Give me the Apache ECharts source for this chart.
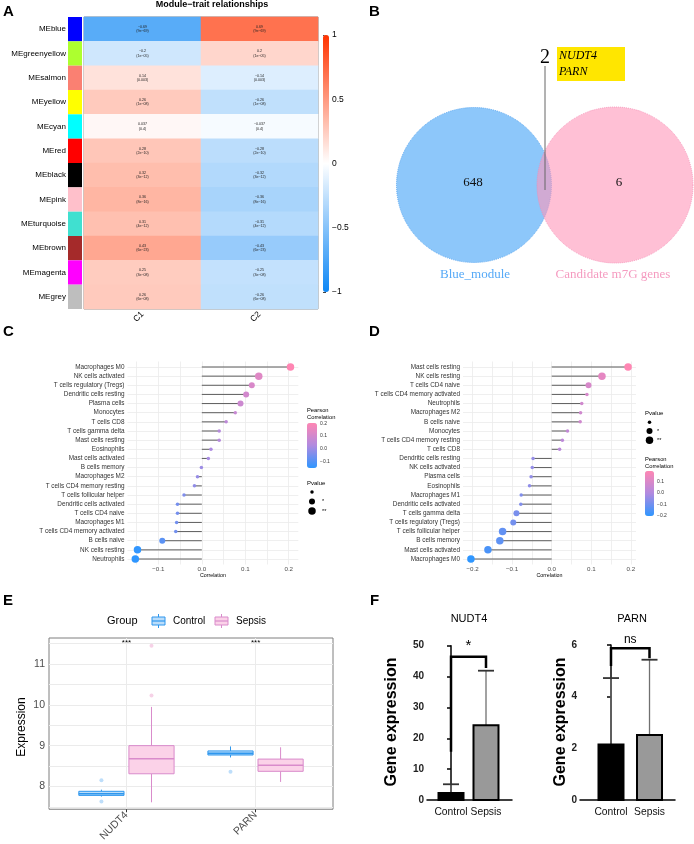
<!DOCTYPE html>
<html><head><meta charset="utf-8">
<script src="https://cdn.jsdelivr.net/npm/echarts@6/dist/echarts.min.js"></script>
<style>html,body{margin:0;padding:0;background:#fff}#c{width:694px;height:844px}</style>
</head><body><div id="c"></div>
<script>
// ================= DATA =================
// Panel A: module-trait heatmap
const modules = ['MEblue','MEgreenyellow','MEsalmon','MEyellow','MEcyan','MEred','MEblack','MEpink','MEturquoise','MEbrown','MEmagenta','MEgrey'];
const moduleColors = ['#0000FF','#ADFF2F','#FA8072','#FFFF00','#00FFFF','#FF0000','#000000','#FFC0CB','#40E0D0','#A52A2A','#FF00FF','#BEBEBE'];
const traits = ['C1','C2'];
const corC1 = [-0.69,-0.2,0.14,0.26,0.037,0.28,0.32,0.36,0.31,0.43,0.25,0.26];
const corC2 = [0.69,0.2,-0.14,-0.26,-0.037,-0.28,-0.32,-0.36,-0.31,-0.43,-0.25,-0.26];
const pvalsA = ['9e−69','1e−05','0.003','1e−08','0.4','2e−10','3e−12','8e−16','4e−12','6e−23','3e−08','6e−08'];

// Panel B: Venn
const vennSets = ['Blue_module','Candidate m7G genes'];
const vennCounts = [648, 2, 6];
const overlapGenes = ['NUDT4','PARN'];

// Panel C: immune cell correlation (NUDT4)
const cellTypesC = ['Macrophages M0','NK cells activated','T cells regulatory (Tregs)','Dendritic cells resting','Plasma cells','Monocytes','T cells CD8','T cells gamma delta','Mast cells resting','Eosinophils','Mast cells activated','B cells memory','Macrophages M2','T cells CD4 memory resting','T cells follicular helper','Dendritic cells activated','T cells CD4 naive','Macrophages M1','T cells CD4 memory activated','B cells naive','NK cells resting','Neutrophils'];
const corrC = [0.204,0.131,0.115,0.102,0.089,0.077,0.056,0.040,0.040,0.021,0.015,-0.001,-0.010,-0.017,-0.041,-0.056,-0.056,-0.058,-0.060,-0.091,-0.148,-0.153];
const pLevelC = [2,2,1,1,1,0,0,0,0,0,0,0,0,0,0,0,0,0,0,1,2,2];

// Panel D: immune cell correlation (PARN)
const cellTypesD = ['Mast cells resting','NK cells resting','T cells CD4 naive','T cells CD4 memory activated','Neutrophils','Macrophages M2','B cells naive','Monocytes','T cells CD4 memory resting','T cells CD8','Dendritic cells resting','NK cells activated','Plasma cells','Eosinophils','Macrophages M1','Dendritic cells activated','T cells gamma delta','T cells regulatory (Tregs)','T cells follicular helper','B cells memory','Mast cells activated','Macrophages M0'];
const corrD = [0.193,0.127,0.093,0.089,0.076,0.073,0.072,0.040,0.027,0.020,-0.047,-0.049,-0.052,-0.056,-0.077,-0.078,-0.089,-0.097,-0.124,-0.131,-0.161,-0.204];
const pLevelD = [2,2,1,0,0,0,0,0,0,0,0,0,0,0,0,0,1,1,2,2,2,2];
const pLabels = ['', '*', '**'];
const corrAxisTicksC = [-0.1,0,0.1,0.2];
const corrAxisTicksD = [-0.2,-0.1,0,0.1,0.2];
const corrGridC = [-0.15,-0.1,-0.05,0,0.05,0.1,0.15,0.2];
const corrGridD = [-0.2,-0.15,-0.1,-0.05,0,0.05,0.1,0.15,0.2];
const legendTicksC = [-0.1,0,0.1,0.2];
const legendTicksD = [-0.2,-0.1,0,0.1];

// Panel E: boxplots  [lower whisker, Q1, median, Q3, upper whisker]
const genesE = ['NUDT4','PARN'];
const groupsE = ['Control','Sepsis'];
const boxControl = [[7.75,7.78,7.82,7.88,7.92],[8.71,8.77,8.81,8.87,8.98]];
const boxSepsis  = [[7.61,8.31,8.68,9.00,9.95],[8.11,8.37,8.52,8.67,8.96]];
const outControl = [[1,8.15],[1,7.63],[2,8.36]];
const outSepsis  = [[1,10.23],[1,11.45]];
const yTicksE = [8,9,10,11];
const yGridE = [7.5,8,8.5,9,9.5,10,10.5,11,11.5];
const sigE = ['***','***'];

// Panel F: bar charts
const groupsF = ['Control','Sepsis'];
const nudt4Mean = [2.3, 24.2];
const nudt4Upper = [5.1, 41.9];
const parnMean = [2.15, 2.52];
const parnUpper = [4.72, 5.43];
const nudt4Bracket = [15.6, 46.4, 42.8];
const parnBracket = [5.19, 5.87, 5.49];
const sigF = ['*','ns'];

// ================= RENDER =================
const SANS = 'Liberation Sans, Arial, Helvetica, sans-serif';
const SERIF = 'Liberation Serif, Times New Roman, serif';
const chart = echarts.init(document.getElementById('c'), null, {renderer:'canvas', width:694, height:844});

const mfmt = v => (v < 0 ? '−' : '') + String(Math.abs(+v.toFixed(3)));
const f1 = v => Math.abs(v) < 1e-9 ? '0.0' : (v < 0 ? '−' : '') + Math.abs(v).toFixed(1);

const heatData = [];
modules.forEach((m, i) => { heatData.push([0, i, corC1[i]]); heatData.push([1, i, corC2[i]]); });

const pSizes = [3.5, 6, 7.5];
const lolliColors = ['#2E96FF', '#B08AE0', '#FF86B3'];

function stemRender(params, api) {
  const v = api.value(0), y = api.value(1);
  const a = api.coord([0, y]), b = api.coord([v, y]);
  return {type:'line', shape:{x1:a[0], y1:a[1], x2:b[0], y2:b[1]}, style:{stroke:'#5c5c5c', lineWidth:1}};
}

const dodge = 0.194, boxHalf = 0.175;
function boxRender(offset, stroke, fill) {
  return (params, api) => {
    const x = api.value(0) + offset;
    const lo = api.coord([x, api.value(1)]), q1 = api.coord([x, api.value(2)]), md = api.coord([x, api.value(3)]),
          q3 = api.coord([x, api.value(4)]), hi = api.coord([x, api.value(5)]);
    const L = api.coord([x - boxHalf, api.value(3)])[0], R = api.coord([x + boxHalf, api.value(3)])[0];
    return {type:'group', children:[
      {type:'line', shape:{x1:lo[0], y1:lo[1], x2:q1[0], y2:q1[1]}, style:{stroke, lineWidth:1}},
      {type:'line', shape:{x1:q3[0], y1:q3[1], x2:hi[0], y2:hi[1]}, style:{stroke, lineWidth:1}},
      {type:'rect', shape:{x:L, y:q3[1], width:R-L, height:q1[1]-q3[1]}, style:{fill, stroke, lineWidth:1}},
      {type:'line', shape:{x1:L, y1:md[1], x2:R, y2:md[1]}, style:{stroke, lineWidth:1.6}}
    ]};
  };
}

function barsRender(fills) {
  return (params, api) => {
    const i = params.dataIndex;
    const x = api.value(0), m = api.value(1), u = api.value(2);
    const base = api.coord([x, 0]), top = api.coord([x, m]), up = api.coord([x, u]);
    const w = 25;
    return {type:'group', children:[
      {type:'line', shape:{x1:top[0], y1:top[1], x2:up[0], y2:up[1]}, style:{stroke:'#707070', lineWidth:1.3}},
      {type:'line', shape:{x1:up[0]-8, y1:up[1], x2:up[0]+8, y2:up[1]}, style:{stroke:'#333', lineWidth:1.8}},
      {type:'rect', shape:{x:base[0]-w/2, y:top[1], width:w, height:base[1]-top[1]}, style:{fill:fills[i], stroke:'#000', lineWidth:2}}
    ]};
  };
}

function bracketRender(label, size) {
  return (params, api) => {
    const l = api.value(0), r = api.value(1);
    const p1 = api.coord([l, api.value(2)]), p2 = api.coord([l, api.value(3)]),
          p3 = api.coord([r, api.value(3)]), p4 = api.coord([r, api.value(4)]);
    return {type:'group', children:[
      {type:'polyline', shape:{points:[p1,p2,p3,p4]}, style:{stroke:'#000', lineWidth:2.5, fill:null}},
      {type:'text', x:(p2[0]+p3[0])/2, y:p2[1]-3, style:{text:label, fontSize:size, fontFamily:SANS, fill:'#000', align:'center', verticalAlign:'bottom'}}
    ]};
  };
}

// ---------- graphics (labels / legends) ----------
const G = [];
function txt(x, y, text, o) {
  o = o || {};
  G.push({type:'text', x, y, rotation:o.rot||0, z:100, silent:true, style:{
    text, fontSize:o.size||10, fontFamily:o.family||SANS, fontWeight:o.weight||'normal', fontStyle:o.style||'normal',
    fill:o.color||'#000', align:o.align||'left', verticalAlign:o.va||'middle'}});
}
// panel letters
txt(3, 12, 'A', {size:15, weight:'bold'});
txt(369, 12, 'B', {size:15, weight:'bold'});
txt(3, 332, 'C', {size:15, weight:'bold'});
txt(369, 332, 'D', {size:15, weight:'bold'});
txt(3, 601, 'E', {size:15, weight:'bold'});
txt(370, 601, 'F', {size:15, weight:'bold'});
// A title
txt(212, 5, 'Module−trait relationships', {size:9, weight:'bold', align:'center'});
// B annotations
G.push({type:'line', z:100, silent:true, shape:{x1:545, y1:66, x2:545, y2:190}, style:{stroke:'#666', lineWidth:1}});
txt(545, 58, String(vennCounts[1]), {size:20, family:SERIF, align:'center'});
G.push({type:'rect', z:99, silent:true, shape:{x:557, y:47, width:68, height:34}, style:{fill:'#FFE600'}});
txt(559, 55.5, overlapGenes[0], {size:12, family:SERIF, style:'italic'});
txt(559, 71.5, overlapGenes[1], {size:12, family:SERIF, style:'italic'});
txt(475, 275, vennSets[0], {size:13, family:SERIF, align:'center', color:'#55A9F7'});
txt(613, 275, vennSets[1], {size:13, family:SERIF, align:'center', color:'#F59BC0'});
// C legends
txt(307, 410, 'Pearson', {size:5.8});
txt(307, 417, 'Correlation', {size:5.8});
txt(307, 483, 'Pvalue', {size:6});
[492, 501.5, 511].forEach((y, k) => {
  G.push({type:'circle', z:100, silent:true, shape:{cx:312, cy:y, r:pSizes[k]/2}, style:{fill:'#000'}});
  txt(322, y, pLabels[k], {size:5.5});
});
// D legends
txt(645, 413, 'Pvalue', {size:6});
[422.3, 431, 440.3].forEach((y, k) => {
  G.push({type:'circle', z:100, silent:true, shape:{cx:649.5, cy:y, r:pSizes[k]/2}, style:{fill:'#000'}});
  txt(657, y, pLabels[k], {size:5.5});
});
txt(645, 459.5, 'Pearson', {size:5.8});
txt(645, 466.5, 'Correlation', {size:5.8});
// E legend
txt(107, 621, 'Group', {size:11});
[[152, '#2E97EE', '#BBDDFA', groupsE[0], 173], [215, '#D98BCB', '#FBD2E8', groupsE[1], 236]].forEach(([x, s, f, lab, tx]) => {
  G.push({type:'line', z:100, silent:true, shape:{x1:x+6.5, y1:614, x2:x+6.5, y2:628}, style:{stroke:s, lineWidth:1}});
  G.push({type:'rect', z:100, silent:true, shape:{x:x, y:617, width:13, height:8}, style:{fill:f, stroke:s, lineWidth:1}});
  G.push({type:'line', z:100, silent:true, shape:{x1:x, y1:621, x2:x+13, y2:621}, style:{stroke:s, lineWidth:1.2}});
  txt(tx, 621, lab, {size:10});
});
txt(22, 727, 'Expression', {size:12, rot:Math.PI/2, align:'center'});
txt(126.5, 643, sigE[0], {size:8, align:'center'});
txt(255.6, 643, sigE[1], {size:8, align:'center'});
// F titles
txt(469, 619, 'NUDT4', {size:11, align:'center'});
txt(632, 619, 'PARN', {size:11, align:'center'});
txt(392, 722, 'Gene expression', {size:16, weight:'bold', rot:Math.PI/2, align:'center'});
txt(561, 722, 'Gene expression', {size:16, weight:'bold', rot:Math.PI/2, align:'center'});

// ---------- axes ----------
const hidden = (g, extra) => Object.assign({gridIndex:g, type:'value', show:false}, extra||{});
const lolliX = (g, min, max, labels, lines) => ({gridIndex:g, type:'value', min, max,
  axisLine:{show:false}, axisTick:{show:false, customValues:lines},
  axisLabel:{customValues:labels, formatter:f1, fontSize:6.2, color:'#4d4d4d', margin:2},
  splitLine:{show:true, lineStyle:{color:'#EBEBEB', width:0.8}},
  name:'Correlation', nameLocation:'middle', nameGap:9, nameTextStyle:{fontSize:5.3, color:'#000'}});
const idxC = cellTypesC.map((_, i) => i), idxD = cellTypesD.map((_, i) => i);
const lolliY = (g, names, idx) => ({gridIndex:g, type:'value', inverse:true, min:-0.6, max:names.length - 0.4,
  axisLine:{show:false}, axisTick:{show:false, customValues:idx},
  axisLabel:{customValues:idx, formatter:v => names[Math.round(v)], fontSize:6.4, color:'#333', margin:3},
  splitLine:{show:true, lineStyle:{color:'#EBEBEB', width:0.8}}});
const cbarY = (g, min, max, ticks) => ({gridIndex:g, type:'value', min, max, position:'right',
  axisLine:{show:false}, axisTick:{show:false, customValues:ticks},
  axisLabel:{customValues:ticks, formatter:f1, fontSize:5, color:'#333', margin:3}, splitLine:{show:false}});

const xAxis = [
  hidden(0, {min:0, max:1}),
  {gridIndex:1, type:'category', data:traits, axisLine:{show:false}, axisTick:{show:false},
   axisLabel:{rotate:45, fontSize:8.5, margin:4, color:'#000'}, splitLine:{show:false}},
  hidden(2, {min:0, max:1}),
  hidden(3, {min:-0.879, max:1.560}),
  lolliX(4, -0.171, 0.222, corrAxisTicksC, corrGridC),
  hidden(5, {min:0, max:1}),
  lolliX(6, -0.224, 0.213, corrAxisTicksD, corrGridD),
  hidden(7, {min:0, max:1}),
  {gridIndex:8, type:'value', min:0.4, max:2.6, axisLine:{show:false},
   axisTick:{show:true, length:3, lineStyle:{color:'#333'}, customValues:[1,2]},
   axisLabel:{customValues:[1,2], formatter:v => genesE[Math.round(v)-1], rotate:45, fontSize:10.5, color:'#4d4d4d', margin:4},
   splitLine:{show:true, lineStyle:{color:'#EBEBEB', width:1}}},
  {gridIndex:9, type:'value', min:-0.686, max:1.743, axisLine:{show:true, lineStyle:{color:'#000', width:1.5}},
   axisTick:{show:false, customValues:[0,1]}, axisLabel:{customValues:[0,1], formatter:v => groupsF[Math.round(v)], fontSize:10.3, color:'#111', margin:7},
   splitLine:{show:false}},
  {gridIndex:10, type:'value', min:-0.805, max:1.662, axisLine:{show:true, lineStyle:{color:'#000', width:1.5}},
   axisTick:{show:false, customValues:[0,1]}, axisLabel:{customValues:[0,1], formatter:v => groupsF[Math.round(v)], fontSize:10.3, color:'#111', margin:7},
   splitLine:{show:false}}
];
const fY = (g, max, interval) => ({gridIndex:g, type:'value', min:0, max, interval,
  axisLine:{show:true, lineStyle:{color:'#000', width:1.5}},
  axisTick:{show:true, length:4, lineStyle:{color:'#000', width:1.5}},
  axisLabel:{fontSize:10, fontWeight:'bold', color:'#222', margin:3}, splitLine:{show:false}});
const yAxis = [
  {gridIndex:0, type:'category', data:modules, inverse:true, axisLine:{show:false}, axisTick:{show:false},
   axisLabel:{fontSize:8, color:'#000', margin:2}},
  {gridIndex:1, type:'category', data:modules, inverse:true, show:false},
  {gridIndex:2, type:'value', min:-1, max:1, interval:0.5, position:'right', axisLine:{show:false},
   axisTick:{show:true, length:3, lineStyle:{color:'#444'}}, axisLabel:{fontSize:8.5, color:'#000', margin:3, formatter:v => (v<0?'−':'') + Math.abs(v)},
   splitLine:{show:false}},
  hidden(3, {min:-1, max:1}),
  lolliY(4, cellTypesC, idxC),
  cbarY(5, -0.153, 0.204, legendTicksC),
  lolliY(6, cellTypesD, idxD),
  cbarY(7, -0.204, 0.193, legendTicksD),
  {gridIndex:8, type:'value', min:7.44, max:11.64, axisLine:{show:false},
   axisTick:{show:false, customValues:yGridE}, axisLabel:{customValues:yTicksE, fontSize:10.5, color:'#4d4d4d', margin:4},
   splitLine:{show:true, lineStyle:{color:'#EBEBEB', width:1}}},
  fY(9, 50, 10),
  fY(10, 6, 2)
];

const option = {
  animation:false,
  backgroundColor:'#fff',
  textStyle:{fontFamily:SANS},
  grid:[
    {left:68, top:17, width:14, height:292},
    {left:84, top:17, width:234, height:292, show:true, borderColor:'#8c8c8c', borderWidth:1, backgroundColor:'transparent'},
    {left:323, top:35, width:6, height:257},
    {left:350, top:85, width:344, height:200},
    {left:127.5, top:361.5, width:170.8, height:203},
    {left:307, top:423, width:10, height:45},
    {left:463, top:361.5, width:173, height:203},
    {left:645, top:471, width:9, height:45},
    {left:49, top:638, width:284, height:177, show:true, borderColor:'#7f7f7f', borderWidth:1, backgroundColor:'#fff'},
    {left:427, top:645.7, width:85, height:154.3},
    {left:580, top:645, width:95, height:155}
  ],
  xAxis, yAxis,
  visualMap:[
    {type:'continuous', seriesIndex:1, dimension:2, min:-1, max:1, left:323, top:35, itemWidth:6, itemHeight:257,
     calculable:false, padding:0, showLabel:false, text:null, inRange:{color:['#0D87F5','#FFFFFF','#FF3300']}},
    {type:'continuous', seriesIndex:5, dimension:0, min:-0.153, max:0.204, left:307, top:423, itemWidth:10, itemHeight:45,
     calculable:false, padding:0, text:null, inRange:{color:lolliColors}},
    {type:'continuous', seriesIndex:7, dimension:0, min:-0.204, max:0.193, left:645, top:471, itemWidth:9, itemHeight:45,
     calculable:false, padding:0, text:null, inRange:{color:lolliColors}}
  ],
  series:[
    {type:'bar', xAxisIndex:0, yAxisIndex:0, barWidth:'100%', silent:true,
     data:modules.map((m, i) => ({value:1, itemStyle:{color:moduleColors[i]}}))},
    {type:'heatmap', xAxisIndex:1, yAxisIndex:1, data:heatData, silent:true,
     label:{show:true, fontSize:3.6, lineHeight:4.6, color:'#222',
       formatter:p => mfmt(p.value[2]) + '\n(' + pvalsA[p.value[1]] + ')'}},
    {type:'scatter', xAxisIndex:3, yAxisIndex:3, data:[[0,0]], symbolSize:155, silent:true, z:2,
     itemStyle:{color:'#8DC7FA', opacity:1, borderColor:'#5DA9F2', borderWidth:1, borderType:'dotted'},
     label:{show:true, position:'inside', formatter:String(vennCounts[0]), fontFamily:SERIF, fontSize:13, color:'#111', offset:[-1,-2]}},
    {type:'scatter', xAxisIndex:3, yAxisIndex:3, data:[[1,0]], symbolSize:156, silent:true, z:3,
     itemStyle:{color:'rgba(255,150,185,0.6)', opacity:1, borderColor:'rgba(245,140,180,0.8)', borderWidth:1, borderType:'dotted'},
     label:{show:true, position:'inside', formatter:String(vennCounts[2]), fontFamily:SERIF, fontSize:13, color:'#111', offset:[4,-2]}},
    {type:'custom', xAxisIndex:4, yAxisIndex:4, data:corrC.map((v, i) => [v, i]), renderItem:stemRender, silent:true, z:2},
    {type:'scatter', xAxisIndex:4, yAxisIndex:4, data:corrC.map((v, i) => [v, i, pLevelC[i]]), symbolSize:v => pSizes[v[2]], silent:true, z:3,
     itemStyle:{opacity:1}},
    {type:'custom', xAxisIndex:6, yAxisIndex:6, data:corrD.map((v, i) => [v, i]), renderItem:stemRender, silent:true, z:2},
    {type:'scatter', xAxisIndex:6, yAxisIndex:6, data:corrD.map((v, i) => [v, i, pLevelD[i]]), symbolSize:v => pSizes[v[2]], silent:true, z:3,
     itemStyle:{opacity:1}},
    {type:'custom', xAxisIndex:8, yAxisIndex:8, data:boxControl.map((b, i) => [i + 1].concat(b)), renderItem:boxRender(-dodge, '#2E97EE', '#BBDDFA'), silent:true, z:3},
    {type:'custom', xAxisIndex:8, yAxisIndex:8, data:boxSepsis.map((b, i) => [i + 1].concat(b)), renderItem:boxRender(dodge, '#D98BCB', '#FBD2E8'), silent:true, z:3},
    {type:'scatter', xAxisIndex:8, yAxisIndex:8, data:outControl.map(o => [o[0] - dodge, o[1]]), symbolSize:4, silent:true, z:4,
     itemStyle:{color:'rgba(120,185,245,0.6)'}},
    {type:'scatter', xAxisIndex:8, yAxisIndex:8, data:outSepsis.map(o => [o[0] + dodge, o[1]]), symbolSize:4, silent:true, z:4,
     itemStyle:{color:'rgba(240,180,215,0.75)'}},
    {type:'custom', xAxisIndex:9, yAxisIndex:9, data:groupsF.map((g, i) => [i, nudt4Mean[i], nudt4Upper[i]]), renderItem:barsRender(['#000','#999']), silent:true, z:3},
    {type:'custom', xAxisIndex:9, yAxisIndex:9, data:[[0, 1].concat(nudt4Bracket)], renderItem:bracketRender(sigF[0], 15), silent:true, z:3},
    {type:'custom', xAxisIndex:10, yAxisIndex:10, data:groupsF.map((g, i) => [i, parnMean[i], parnUpper[i]]), renderItem:barsRender(['#000','#999']), silent:true, z:3},
    {type:'custom', xAxisIndex:10, yAxisIndex:10, data:[[0, 1].concat(parnBracket)], renderItem:bracketRender(sigF[1], 12), silent:true, z:3}
  ],
  graphic:{elements:G}
};
chart.setOption(option);
</script>
</body></html>
